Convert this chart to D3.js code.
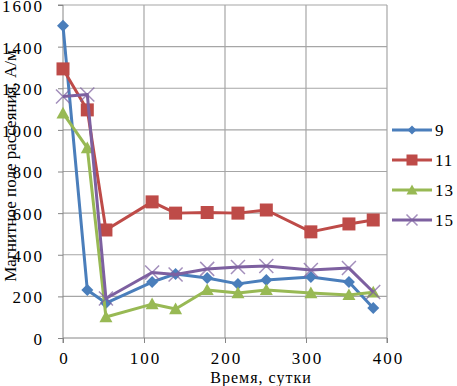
<!DOCTYPE html>
<html>
<head>
<meta charset="utf-8" />
<script src="https://d3js.org/d3.v7.min.js"></script>
<style>
  body { margin: 0; background: #fff; }
  svg text { font-family: "Liberation Serif", "DejaVu Serif", serif; fill: #000; }
</style>
</head>
<body>
<div id="chart"></div>
<script>
// Data
const days = [0, 30, 53, 110, 139, 178, 216, 251, 306, 353, 383];
const s9  = [1500, 231, 168, 269, 308, 288, 260, 279, 293, 269, 144];
const s11 = [1293, 1096, 519, 654, 600, 603, 600, 615, 510, 548, 567];
const s13 = [1080, 913, 101, 163, 139, 231, 216, 231, 216, 207, 220];
const s15 = [1160, 1170, 190, 315, 305, 332, 341, 346, 327, 336, 221];
const seriesNames = ["9", "11", "13", "15"];
const seriesValues = [s9, s11, s13, s15];
const colors = ["#4a7ebb", "#be4b48", "#98b954", "#7d60a0"];
const markers = ["diamond", "square", "triangle", "cross"];
const xTicks = [0, 100, 200, 300, 400];
const yTicks = [0, 200, 400, 600, 800, 1000, 1200, 1400, 1600];

const W = 457, H = 386;
const plot = { left: 63, right: 387, top: 5, bottom: 338 };

const svg = d3.select("#chart").append("svg").attr("width", W).attr("height", H);

const x = d3.scaleLinear().domain([0, 400]).range([plot.left, plot.right]);
const y = d3.scaleLinear().domain([0, 1600]).range([plot.bottom, plot.top]);

// сетка
svg.append("g").selectAll("line").data(yTicks.slice(1)).enter().append("line")
  .attr("x1", plot.left).attr("x2", plot.right)
  .attr("y1", d => y(d)).attr("y2", d => y(d))
  .attr("stroke", "#a6a6a6").attr("stroke-width", 1.2);
svg.append("g").selectAll("line").data(xTicks.slice(1)).enter().append("line")
  .attr("y1", plot.top).attr("y2", plot.bottom)
  .attr("x1", d => x(d)).attr("x2", d => x(d))
  .attr("stroke", "#a6a6a6").attr("stroke-width", 1.2);

// оси
const yAxis = d3.axisLeft(y).tickValues(yTicks).tickFormat(d3.format("d")).tickSize(5).tickPadding(14);
const xAxis = d3.axisBottom(x).tickValues(xTicks).tickFormat(d3.format("d")).tickSize(5).tickPadding(9);
const gy = svg.append("g").attr("transform", `translate(${plot.left},0)`).call(yAxis);
const gx = svg.append("g").attr("transform", `translate(0,${plot.bottom})`).call(xAxis);
[gy, gx].forEach(g => {
  g.attr("font-family", null);
  g.select(".domain").attr("stroke", "#868686");
  g.selectAll(".tick line").attr("stroke", "#868686");
  g.selectAll("text")
    .style("font-family", '"Liberation Serif", serif')
    .style("font-size", "17px")
    .style("letter-spacing", "2px")
    .attr("fill", "#000");
});
gy.selectAll("text").attr("dy", "0.38em");
gy.select(".domain").attr("d", `M-5,${plot.top}H0V${plot.bottom}`);
gx.select(".domain").attr("d", `M${plot.left},5V0H${plot.right}V5`);
gx.selectAll("text").attr("dx", "1px");

// подписи осей
svg.append("text")
  .attr("transform", `translate(10,166) rotate(-90)`)
  .attr("text-anchor", "middle")
  .attr("dy", "0.35em")
  .style("font-size", "17px")
  .text("Магнитное поле рассеяния, А/м");
svg.append("text")
  .attr("x", 261).attr("y", 383)
  .attr("text-anchor", "middle")
  .style("font-size", "16px")
  .style("letter-spacing", "1px")
  .text("Время, сутки");

function drawMarker(g, type, color, size) {
  const s = size;
  if (type === "diamond") {
    g.append("path").attr("d", `M0,${-s}L${s},0L0,${s}L${-s},0Z`).attr("fill", color);
  } else if (type === "square") {
    g.append("rect").attr("x", -s).attr("y", -s).attr("width", 2 * s).attr("height", 2 * s).attr("fill", color);
  } else if (type === "triangle") {
    g.append("path").attr("d", `M0,${-s}L${s},${s * 0.8}L${-s},${s * 0.8}Z`).attr("fill", color);
  } else {
    g.append("path").attr("d", `M${-s},${-s}L${s},${s}M${-s},${s}L${s},${-s}`)
      .attr("stroke", color).attr("stroke-width", 1.5).attr("opacity", 0.7);
  }
}

const sizes = [6, 6.5, 6.5, 7];
const line = d3.line().x(d => x(d[0])).y(d => y(d[1]));

seriesValues.forEach((vals, i) => {
  const pts = days.map((d, j) => [d, vals[j]]);
  svg.append("path").datum(pts)
    .attr("d", line)
    .attr("fill", "none")
    .attr("stroke", colors[i])
    .attr("stroke-width", 3)
    .attr("stroke-linejoin", "round");
  pts.forEach(p => {
    const g = svg.append("g").attr("transform", `translate(${x(p[0])},${y(p[1])})`);
    drawMarker(g, markers[i], colors[i], sizes[i]);
  });
});

// легенда
seriesNames.forEach((name, i) => {
  const ly = 130 + i * 30;
  const g = svg.append("g").attr("transform", `translate(392,${ly})`);
  g.append("line").attr("x1", 0).attr("x2", 40).attr("y1", 0).attr("y2", 0)
    .attr("stroke", colors[i]).attr("stroke-width", 3);
  const m = g.append("g").attr("transform", "translate(20,0)");
  drawMarker(m, markers[i], colors[i], i === 0 ? 4.5 : 5.5);
  g.append("text").attr("x", 43).attr("y", 0).attr("dy", "0.35em")
    .style("font-size", "17px").style("letter-spacing", "1px").text(name);
});
</script>
</body>
</html>
